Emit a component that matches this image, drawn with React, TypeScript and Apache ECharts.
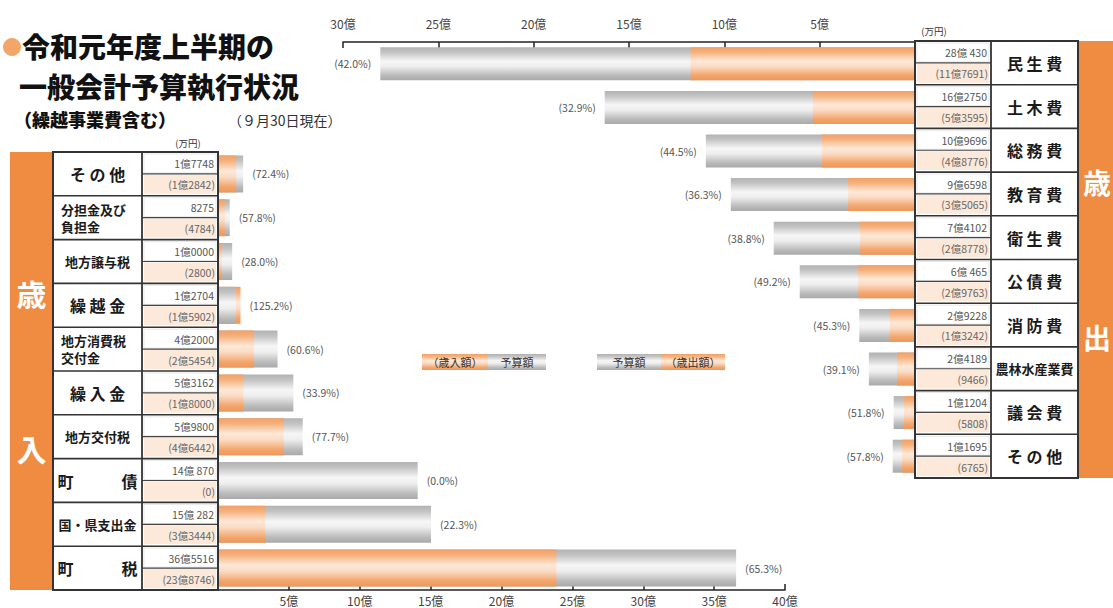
import React, { useEffect, useRef } from 'react';
import * as echarts from 'echarts';

// ---- data (万円) ----
const revenueCategories = ['その他', '分担金及び負担金', '地方譲与税', '繰越金', '地方消費税交付金', '繰入金', '地方交付税', '町債', '国・県支出金', '町税'];
const revenueBudget = [17748, 8275, 10000, 12704, 42000, 53162, 59800, 140870, 150282, 365516];
const revenueExecuted = [12842, 4784, 2800, 15902, 25454, 18000, 46442, 0, 33444, 238746];

const expenseCategories = ['民生費', '土木費', '総務費', '教育費', '衛生費', '公債費', '消防費', '農林水産業費', '議会費', 'その他'];
const expenseBudget = [280430, 162750, 109696, 96598, 74102, 60465, 29228, 24189, 11204, 11695];
const expenseExecuted = [117691, 53595, 48776, 35065, 28778, 29763, 13242, 9466, 5808, 6765];

const tickUnit = '億';
const revenueAxisMax = 40;
const expenseAxisMax = 30;
const axisInterval = 5;

const titleLines = ['令和元年度上半期の', '一般会計予算執行状況'];
const subTitle = '（繰越事業費含む）';
const dateNote = '（９月30日現在）';
const unitNote = '(万円)';

const FONT = '"Noto Sans CJK JP", "Noto Sans", sans-serif';
const ORANGE_BAND = '#ef8c42';

const grad = (c: string[]) => ({
  type: 'linear', x: 0, y: 0, x2: 0, y2: 1,
  colorStops: [
    { offset: 0, color: c[0] }, { offset: 0.15, color: c[1] }, { offset: 0.42, color: c[2] },
    { offset: 0.58, color: c[3] }, { offset: 0.85, color: c[4] }, { offset: 1, color: c[5] },
  ],
});
const GRAY = grad(['#b2b2b2', '#c3c3c3', '#f6f6f6', '#eeeeee', '#bbbbbb', '#a9a9a9']);
const ORANGE = grad(['#f2a064', '#f5b17d', '#fde9d8', '#fbdcc5', '#f3a56c', '#ee9859']);

const toOku = (v: number) => v / 10000;
const fmtMan = (v: number) => {
  if (v >= 10000) {
    const oku = Math.floor(v / 10000);
    const rem = v % 10000;
    return oku + '億' + (rem === 0 ? '0000' : String(rem).padStart(4, ' '));
  }
  return String(v);
};
const pct = (e: number, b: number) => '(' + ((e / b) * 100).toFixed(1) + '%)';

const displayName = (n: string) => {
  if (n.length === 2) return n[0] + '　　　' + n[1];
  if (n.length === 3) return n.split('').join(' ');
  if (n.length >= 7) return n.slice(0, 5) + '\n' + n.slice(5);
  return n;
};

function buildBars(budget: number[], exec: number[], xi: number, labelPos: string, barWidth: number) {
  const longData = budget.map((b, i) => {
    const e = exec[i];
    const budgetLong = b >= e;
    return { value: toOku(Math.max(b, e)), itemStyle: { color: budgetLong ? GRAY : ORANGE } };
  });
  const shortData = budget.map((b, i) => {
    const e = exec[i];
    const budgetLong = b >= e;
    return { value: toOku(Math.min(b, e)), itemStyle: { color: budgetLong ? ORANGE : GRAY } };
  });
  return [
    {
      type: 'bar', xAxisIndex: xi, yAxisIndex: xi, data: longData, barWidth, barGap: '-100%', silent: true, z: 2,
      label: {
        show: true, position: labelPos, distance: 9, color: '#555', fontSize: 10.5, fontFamily: FONT,
        formatter: (p: any) => pct(exec[p.dataIndex], budget[p.dataIndex]),
      },
    },
    { type: 'bar', xAxisIndex: xi, yAxisIndex: xi, data: shortData, barWidth, barGap: '-100%', silent: true, z: 3 },
  ];
}

function tableGraphics(
  cats: string[], budget: number[], exec: number[],
  g: { nameX: number; valX: number; valR: number; nameR: number; top: number; bottom: number }
) {
  const els: any[] = [];
  const n = cats.length;
  const rowH = (g.bottom - g.top) / n;
  const left = Math.min(g.nameX, g.valX);
  const right = Math.max(g.nameR, g.valR);
  const valW = g.valR - g.valX;
  for (let i = 0; i < n; i++) {
    const y0 = g.top + i * rowH;
    els.push({ type: 'rect', shape: { x: g.valX + 2, y: y0 + rowH / 2 + 1, width: valW - 4, height: rowH / 2 - 3 }, style: { fill: '#fce9da' }, z: 1 });
    els.push({ type: 'rect', shape: { x: g.valX + 2, y: y0 + 2, width: valW - 4, height: rowH / 2 - 3 }, style: { fill: '#ffffff', stroke: '#d8d8d8', lineWidth: 0.6 }, z: 1 });
    els.push({ type: 'line', shape: { x1: g.valX, y1: y0 + rowH / 2, x2: g.valR, y2: y0 + rowH / 2 }, style: { stroke: '#444', lineWidth: 1.2 }, z: 2 });
    if (i > 0) {
      els.push({ type: 'line', shape: { x1: left, y1: y0, x2: right, y2: y0 }, style: { stroke: '#333', lineWidth: 1.6 }, z: 2 });
    }
    els.push({
      type: 'text', x: g.valR - 4, y: y0 + rowH / 4 + 1, z: 3,
      style: { text: fmtMan(budget[i]), fontSize: 10.5, fontFamily: FONT, fill: '#555', align: 'right', verticalAlign: 'middle', textAlign: 'right', textVerticalAlign: 'middle' },
    });
    els.push({
      type: 'text', x: g.valR - 3, y: y0 + (rowH * 3) / 4, z: 3,
      style: { text: '(' + fmtMan(exec[i]) + ')', fontSize: 10.5, fontFamily: FONT, fill: '#666', align: 'right', verticalAlign: 'middle', textAlign: 'right', textVerticalAlign: 'middle' },
    });
    const name = cats[i];
    const dn = displayName(name);
    const short = name.length <= 3;
    const multi = dn.indexOf('\n') >= 0;
    const cx = (g.nameX + g.nameR) / 2;
    els.push({
      type: 'text', x: multi ? Math.min(g.nameX, g.nameR) + 8 : cx, y: y0 + rowH / 2, z: 3,
      style: {
        text: dn, fontSize: short ? 16 : 13, fontWeight: 'bold', fontFamily: FONT, fill: '#1a1a1a', lineHeight: 17,
        align: multi ? 'left' : 'center', verticalAlign: 'middle', textAlign: multi ? 'left' : 'center', textVerticalAlign: 'middle',
      },
    });
  }
  els.push({ type: 'rect', shape: { x: left, y: g.top, width: right - left, height: g.bottom - g.top }, style: { fill: 'none', stroke: '#333', lineWidth: 2 }, z: 4 });
  const divX = g.valX === left ? g.valR : g.valX;
  els.push({ type: 'line', shape: { x1: divX, y1: g.top, x2: divX, y2: g.bottom }, style: { stroke: '#333', lineWidth: 1.8 }, z: 4 });
  return els;
}

function bandGraphics(x: number, w: number, top: number, bottom: number, chars: string[], ys: number[], tx: number, align: string, size: number) {
  const els: any[] = [{ type: 'rect', shape: { x, y: top, width: w, height: bottom - top }, style: { fill: ORANGE_BAND }, z: 1 }];
  chars.forEach((c, i) => {
    els.push({
      type: 'text', x: tx, y: ys[i], z: 3,
      style: { text: c, fontSize: size, fontWeight: 'bold', fontFamily: FONT, fill: '#ffffff', align, verticalAlign: 'middle', textAlign: align, textVerticalAlign: 'middle' },
    });
  });
  return els;
}

function legendGraphics() {
  const els: any[] = [];
  const item = (x: number, parts: { t: string; w: number; c: any }[]) => {
    let cx = x;
    parts.forEach((p) => {
      els.push({ type: 'rect', shape: { x: cx, y: 354, width: p.w, height: 16 }, style: { fill: p.c }, z: 1 });
      els.push({
        type: 'text', x: cx + p.w / 2, y: 362, z: 2,
        style: { text: p.t, fontSize: 11, fontFamily: FONT, fill: '#333', align: 'center', verticalAlign: 'middle', textAlign: 'center', textVerticalAlign: 'middle' },
      });
      cx += p.w;
    });
  };
  item(422, [{ t: '（歳入額）', w: 66, c: ORANGE }, { t: '予算額', w: 58, c: GRAY }]);
  item(597, [{ t: '予算額', w: 64, c: GRAY }, { t: '（歳出額）', w: 64, c: ORANGE }]);
  return els;
}

function titleGraphics() {
  const t = (x: number, y: number, text: string, size: number, weight: any, fill: string, align = 'left') => ({
    type: 'text', x, y,
    style: { text, fontSize: size, fontWeight: weight, fontFamily: FONT, fill, align, verticalAlign: 'middle', textAlign: align, textVerticalAlign: 'middle', lineHeight: size },
  });
  return [
    { type: 'circle', shape: { cx: 12, cy: 47, r: 9 }, style: { fill: '#f4a668' } },
    t(22, 46, titleLines[0], 28, 900, '#111'),
    t(19, 86, titleLines[1], 28, 900, '#111'),
    t(14, 119, subTitle, 18, 900, '#111'),
    t(228, 120, dateNote, 14, 'normal', '#333'),
    t(188, 143, unitNote, 9.5, 'normal', '#333', 'center'),
    t(934, 31, unitNote, 9.5, 'normal', '#333', 'center'),
  ];
}

function buildOption() {
  const LG = { left: 218, top: 152, width: 567, height: 438 };
  const RG = { left: 343, top: 42, width: 572, height: 436 };
  const axisCommon = (max: number, pos: string, inverse: boolean, gi: number, margin: number) => ({
    type: 'value', gridIndex: gi, min: 0, max, interval: axisInterval, position: pos, inverse,
    axisLine: { show: true, onZero: false, lineStyle: { color: '#222', width: 1.5 } },
    axisTick: { show: true, inside: true, length: 6, lineStyle: { color: '#222', width: 1.5 } },
    axisLabel: { formatter: (v: number) => (v === 0 ? '' : v + tickUnit), color: '#444', fontSize: 12, fontFamily: FONT, margin },
    splitLine: { show: false },
  });
  const catAxis = (data: string[], gi: number) => ({
    type: 'category', gridIndex: gi, data, inverse: true,
    axisLine: { show: false }, axisTick: { show: false }, axisLabel: { show: false }, splitLine: { show: false },
  });

  const graphics = [
    ...titleGraphics(),
    ...bandGraphics(10, 43, 152, 590, ['歳', '入'], [293, 448], 31.5, 'center', 30),
    ...tableGraphics(revenueCategories, revenueBudget, revenueExecuted, { nameX: 53, nameR: 142, valX: 142, valR: 218, top: 152, bottom: 590 }),
    ...bandGraphics(1078, 40, 41, 478, ['歳', '出'], [182, 337], 1083, 'left', 28),
    ...tableGraphics(expenseCategories, expenseBudget, expenseExecuted, { nameX: 991, nameR: 1078, valX: 915, valR: 991, top: 41, bottom: 478 }),
    ...legendGraphics(),
  ];

  return {
    animation: false,
    backgroundColor: '#ffffff',
    grid: [
      { left: LG.left, top: LG.top, width: LG.width, height: LG.height },
      { left: RG.left, top: RG.top, width: RG.width, height: RG.height },
    ],
    xAxis: [axisCommon(revenueAxisMax, 'bottom', false, 0, 4), axisCommon(expenseAxisMax, 'top', true, 1, 13)],
    yAxis: [catAxis(revenueCategories, 0), catAxis(expenseCategories, 1)],
    series: [
      ...buildBars(revenueBudget, revenueExecuted, 0, 'right', 37),
      ...buildBars(expenseBudget, expenseExecuted, 1, 'left', 33),
    ],
    graphic: { elements: graphics },
  };
}

export default function App() {
  const ref = useRef<HTMLDivElement>(null);
  useEffect(() => {
    if (!ref.current) return;
    const chart = echarts.init(ref.current, undefined, { renderer: 'svg' });
    chart.setOption(buildOption() as any);
    return () => chart.dispose();
  }, []);
  return <div ref={ref} style={{ position: 'absolute', left: 0, top: 0, width: 1113, height: 608, background: '#fff' }} />;
}
